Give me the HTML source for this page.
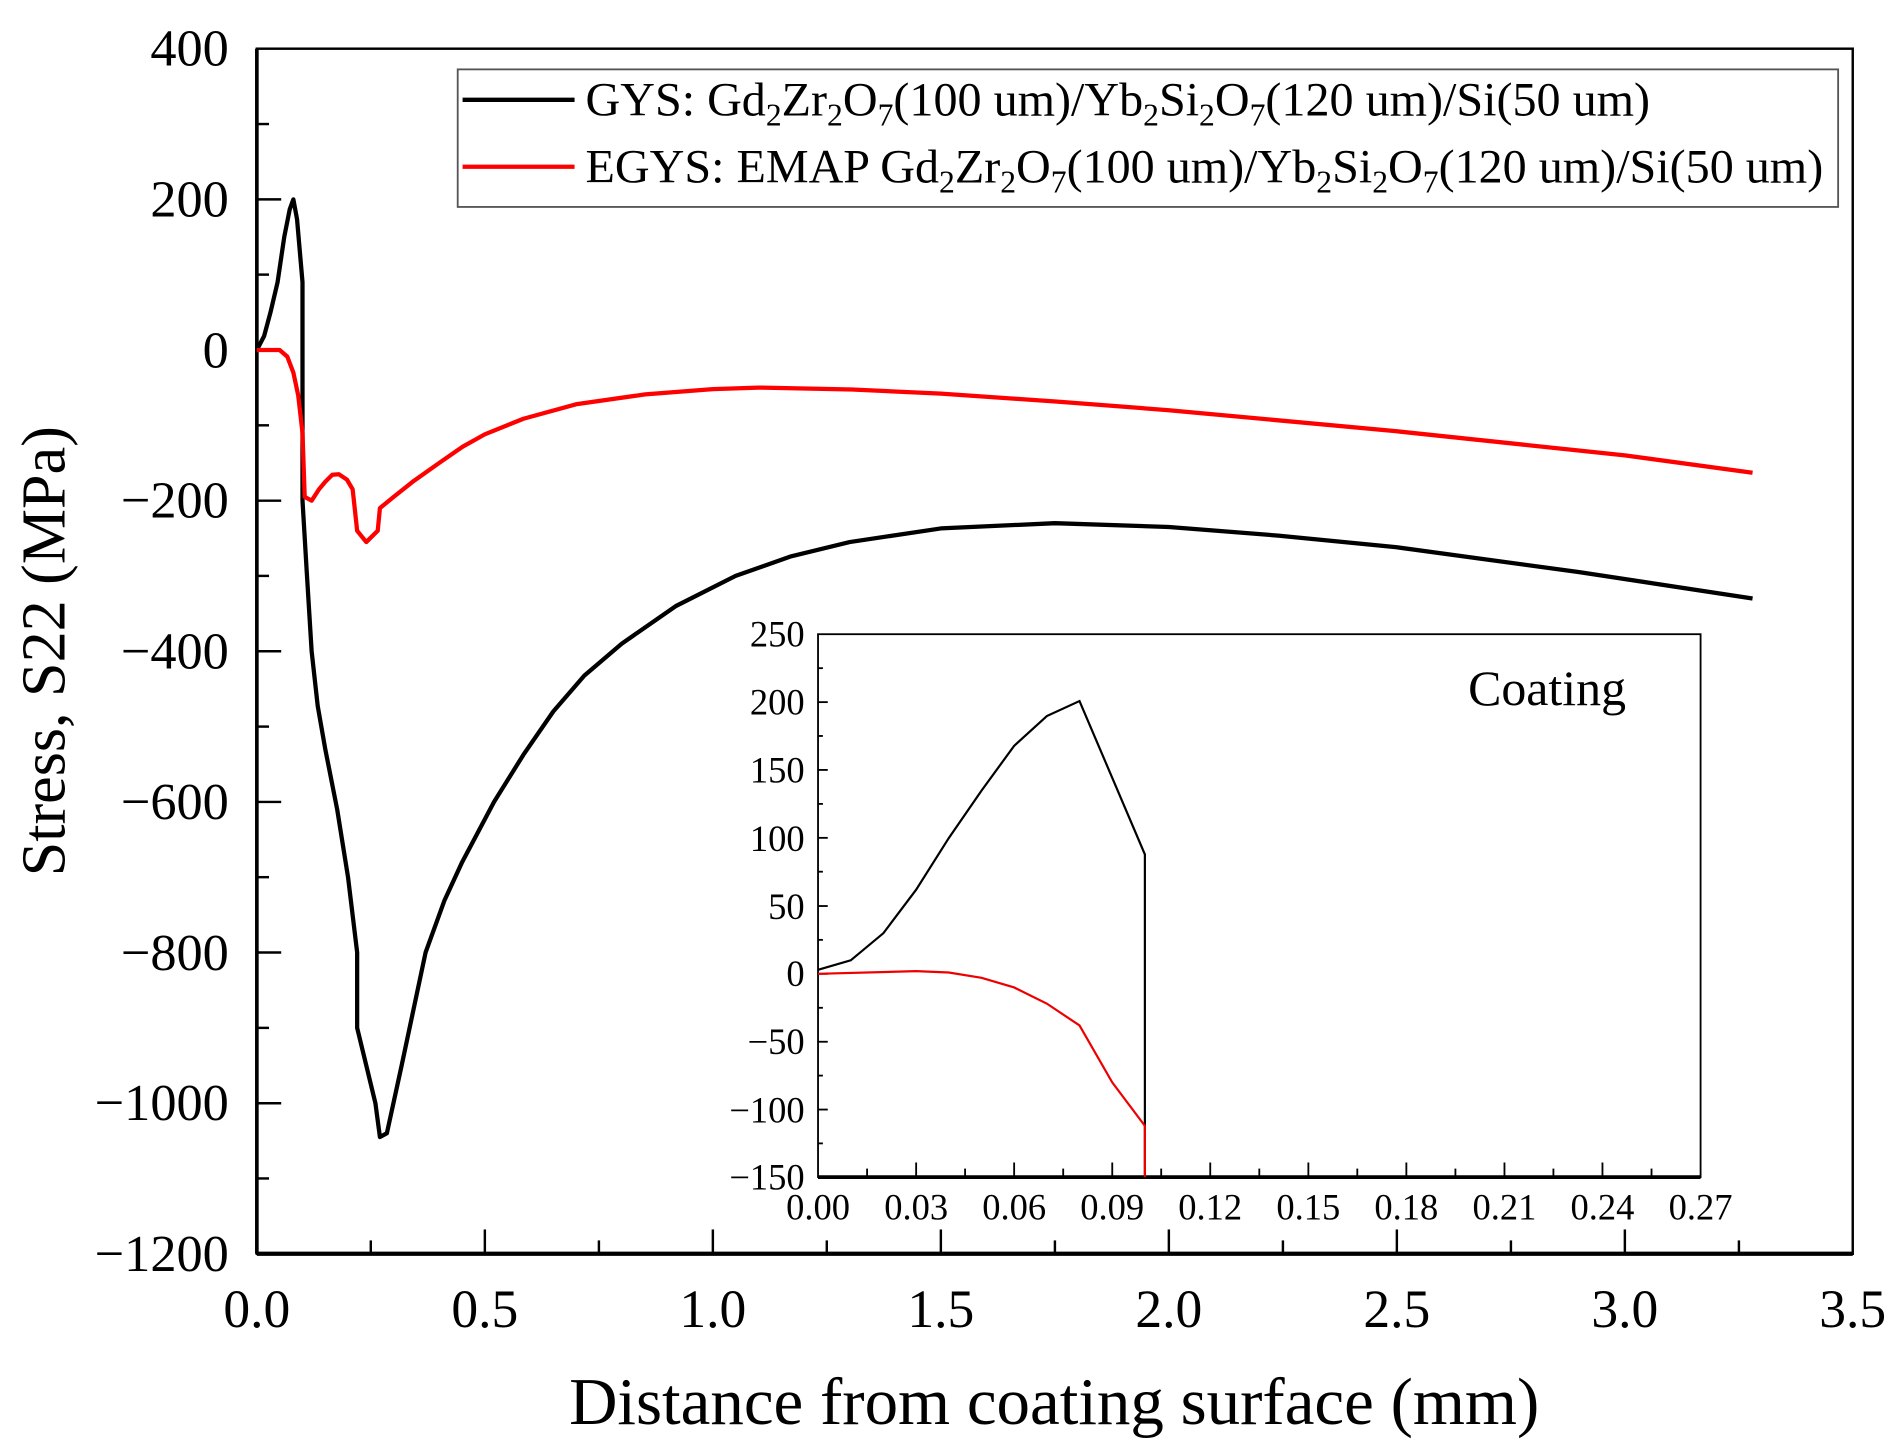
<!DOCTYPE html>
<html><head><meta charset="utf-8"><style>html,body{margin:0;padding:0;background:#fff}svg{display:block}</style></head>
<body>
<svg width="1899" height="1451" viewBox="0 0 1560 1192" preserveAspectRatio="none" xmlns="http://www.w3.org/2000/svg" font-family="Liberation Serif, serif">
<rect width="1560" height="1192" fill="#fff"/>
<rect x="211" y="40" width="1311" height="990" fill="none" stroke="#000" stroke-width="2"/>
<line x1="211" y1="40" x2="211" y2="1030" stroke="#000" stroke-width="3"/>
<line x1="211" y1="1030" x2="1522" y2="1030" stroke="#000" stroke-width="3.5"/>
<g stroke="#000" stroke-width="2">
<line x1="211" y1="1030" x2="211" y2="1010"/><line x1="398.3" y1="1030" x2="398.3" y2="1010"/><line x1="585.6" y1="1030" x2="585.6" y2="1010"/><line x1="772.9" y1="1030" x2="772.9" y2="1010"/><line x1="960.2" y1="1030" x2="960.2" y2="1010"/><line x1="1147.5" y1="1030" x2="1147.5" y2="1010"/><line x1="1334.8" y1="1030" x2="1334.8" y2="1010"/>
<line x1="304.6" y1="1030" x2="304.6" y2="1019"/><line x1="492" y1="1030" x2="492" y2="1019"/><line x1="679.2" y1="1030" x2="679.2" y2="1019"/><line x1="866.6" y1="1030" x2="866.6" y2="1019"/><line x1="1053.9" y1="1030" x2="1053.9" y2="1019"/><line x1="1241.2" y1="1030" x2="1241.2" y2="1019"/><line x1="1428.5" y1="1030" x2="1428.5" y2="1019"/>
<line x1="211" y1="163.8" x2="231" y2="163.8"/><line x1="211" y1="287.5" x2="231" y2="287.5"/><line x1="211" y1="411.3" x2="231" y2="411.3"/><line x1="211" y1="535" x2="231" y2="535"/><line x1="211" y1="658.8" x2="231" y2="658.8"/><line x1="211" y1="782.5" x2="231" y2="782.5"/><line x1="211" y1="906.3" x2="231" y2="906.3"/>
<line x1="211" y1="101.9" x2="221" y2="101.9"/><line x1="211" y1="225.6" x2="221" y2="225.6"/><line x1="211" y1="349.4" x2="221" y2="349.4"/><line x1="211" y1="473.1" x2="221" y2="473.1"/><line x1="211" y1="596.9" x2="221" y2="596.9"/><line x1="211" y1="720.6" x2="221" y2="720.6"/><line x1="211" y1="844.4" x2="221" y2="844.4"/><line x1="211" y1="968.1" x2="221" y2="968.1"/>
</g>
<g font-size="43" text-anchor="end" fill="#000">
<text x="188" y="54">400</text><text x="188" y="178">200</text><text x="188" y="302">0</text><text x="188" y="425">−200</text><text x="188" y="549">−400</text><text x="188" y="673">−600</text><text x="188" y="797">−800</text><text x="188" y="920">−1000</text><text x="188" y="1044">−1200</text>
</g>
<g font-size="44" text-anchor="middle" fill="#000">
<text x="211" y="1090">0.0</text><text x="398.3" y="1090">0.5</text><text x="585.6" y="1090">1.0</text><text x="772.9" y="1090">1.5</text><text x="960.2" y="1090">2.0</text><text x="1147.5" y="1090">2.5</text><text x="1334.8" y="1090">3.0</text><text x="1522" y="1090">3.5</text>
</g>
<text x="866" y="1170" font-size="55" text-anchor="middle">Distance from coating surface (mm)</text>
<text transform="translate(53,535) rotate(-90)" font-size="51" text-anchor="middle">Stress, S22 (MPa)</text>
<rect x="376" y="57" width="1134" height="113" fill="#fff" stroke="#555" stroke-width="1.5"/>
<line x1="380" y1="82" x2="472" y2="82" stroke="#000" stroke-width="3.5"/>
<line x1="380" y1="137" x2="472" y2="137" stroke="#f00" stroke-width="3.5"/>
<g font-size="39.5">
<text x="481" y="95">GYS: Gd<tspan font-size="26" dy="8">2</tspan><tspan dy="-8">Zr</tspan><tspan font-size="26" dy="8">2</tspan><tspan dy="-8">O</tspan><tspan font-size="26" dy="8">7</tspan><tspan dy="-8">(100 um)/Yb</tspan><tspan font-size="26" dy="8">2</tspan><tspan dy="-8">Si</tspan><tspan font-size="26" dy="8">2</tspan><tspan dy="-8">O</tspan><tspan font-size="26" dy="8">7</tspan><tspan dy="-8">(120 um)/Si(50 um)</tspan></text>
<text x="481" y="150">EGYS: EMAP Gd<tspan font-size="26" dy="8">2</tspan><tspan dy="-8">Zr</tspan><tspan font-size="26" dy="8">2</tspan><tspan dy="-8">O</tspan><tspan font-size="26" dy="8">7</tspan><tspan dy="-8">(100 um)/Yb</tspan><tspan font-size="26" dy="8">2</tspan><tspan dy="-8">Si</tspan><tspan font-size="26" dy="8">2</tspan><tspan dy="-8">O</tspan><tspan font-size="26" dy="8">7</tspan><tspan dy="-8">(120 um)/Si(50 um)</tspan></text>
</g>
<polyline fill="none" stroke="#000" stroke-width="3.5" stroke-linejoin="round" points="211,287.5 217,276 222.2,256.6 228,232 233.5,194.7 238,172 241,163.8 244,180 248.5,231.8 248.5,411.3 252,470 256,535 261,580 267.2,615.4 277,665 285.9,720.6 293.4,782.5 293.4,844.4 300.9,875.3 308.4,906.3 312.1,934.1 317.8,931 330,875 349.6,782.5 365,740 379.6,708.3 405.8,658.8 430,620 454.5,584.5 480,555 510.7,528.8 555,498 604.3,473.1 650,457 698,445.3 772.9,434.1 866.6,429.8 960.2,432.9 1050,440 1147.5,449.6 1297.3,470 1439.7,491.7"/>
<polyline fill="none" stroke="#f00" stroke-width="3.5" stroke-linejoin="round" points="211,287.5 229.7,287.5 236,293 241,306.1 245,325 248.5,355.6 250.3,408.2 256,411.3 262,402 267.2,395.8 273,390 278.4,389.6 285,394 289.7,402 293.4,436 300.9,445.3 310.3,436 312.1,417.4 323.4,408.2 340,395 360.8,380.3 380,367 398.3,356.8 430,344 473.2,332.1 530,324 585.6,319.7 623.1,318.4 700,320 772.9,323.4 870,330 960.2,337 1147.5,354.3 1334.8,374.1 1439.7,388.4"/>
<rect x="672" y="521" width="725" height="446" fill="#fff" stroke="#000" stroke-width="1.5"/>
<line x1="672" y1="967" x2="1397" y2="967" stroke="#000" stroke-width="3"/>
<g stroke="#000" stroke-width="1.5">
<line x1="752.6" y1="967" x2="752.6" y2="955"/><line x1="833.1" y1="967" x2="833.1" y2="955"/><line x1="913.7" y1="967" x2="913.7" y2="955"/><line x1="994.2" y1="967" x2="994.2" y2="955"/><line x1="1074.8" y1="967" x2="1074.8" y2="955"/><line x1="1155.3" y1="967" x2="1155.3" y2="955"/><line x1="1235.9" y1="967" x2="1235.9" y2="955"/><line x1="1316.4" y1="967" x2="1316.4" y2="955"/>
<line x1="712.3" y1="967" x2="712.3" y2="960"/><line x1="792.8" y1="967" x2="792.8" y2="960"/><line x1="873.4" y1="967" x2="873.4" y2="960"/><line x1="953.9" y1="967" x2="953.9" y2="960"/><line x1="1034.5" y1="967" x2="1034.5" y2="960"/><line x1="1115" y1="967" x2="1115" y2="960"/><line x1="1195.6" y1="967" x2="1195.6" y2="960"/><line x1="1276.1" y1="967" x2="1276.1" y2="960"/><line x1="1356.7" y1="967" x2="1356.7" y2="960"/>
<line x1="672" y1="576.8" x2="680" y2="576.8"/><line x1="672" y1="632.5" x2="680" y2="632.5"/><line x1="672" y1="688.3" x2="680" y2="688.3"/><line x1="672" y1="744.3" x2="680" y2="744.3"/><line x1="672" y1="800" x2="680" y2="800"/><line x1="672" y1="855.8" x2="680" y2="855.8"/><line x1="672" y1="911.5" x2="680" y2="911.5"/>
<line x1="672" y1="548.9" x2="676" y2="548.9"/><line x1="672" y1="604.6" x2="676" y2="604.6"/><line x1="672" y1="660.4" x2="676" y2="660.4"/><line x1="672" y1="716.1" x2="676" y2="716.1"/><line x1="672" y1="772.1" x2="676" y2="772.1"/><line x1="672" y1="827.9" x2="676" y2="827.9"/><line x1="672" y1="883.6" x2="676" y2="883.6"/><line x1="672" y1="939.3" x2="676" y2="939.3"/>
</g>
<g font-size="30" text-anchor="end">
<text x="661" y="531">250</text><text x="661" y="587">200</text><text x="661" y="643">150</text><text x="661" y="699">100</text><text x="661" y="755">50</text><text x="661" y="810">0</text><text x="661" y="866">−50</text><text x="661" y="922">−100</text><text x="661" y="977">−150</text>
</g>
<g font-size="30" text-anchor="middle">
<text x="672" y="1002">0.00</text><text x="752.6" y="1002">0.03</text><text x="833.1" y="1002">0.06</text><text x="913.7" y="1002">0.09</text><text x="994.2" y="1002">0.12</text><text x="1074.8" y="1002">0.15</text><text x="1155.3" y="1002">0.18</text><text x="1235.9" y="1002">0.21</text><text x="1316.4" y="1002">0.24</text><text x="1397" y="1002">0.27</text>
</g>
<text x="1206" y="579" font-size="41">Coating</text>
<polyline fill="none" stroke="#000" stroke-width="1.8" points="672,796.7 698.9,788.9 725.7,766.6 752.6,730.9 779.4,688.5 806.3,649.5 833.1,612.7 860,588.2 886.8,575.9 940.5,701.9 940.5,967"/>
<polyline fill="none" stroke="#e00" stroke-width="1.8" points="672,800 752.6,797.8 779.4,798.9 806.3,803.3 833.1,811.2 860,824.5 886.8,842.4 913.7,889.2 940.5,924.9 940.5,967"/>
</svg>
</body></html>
